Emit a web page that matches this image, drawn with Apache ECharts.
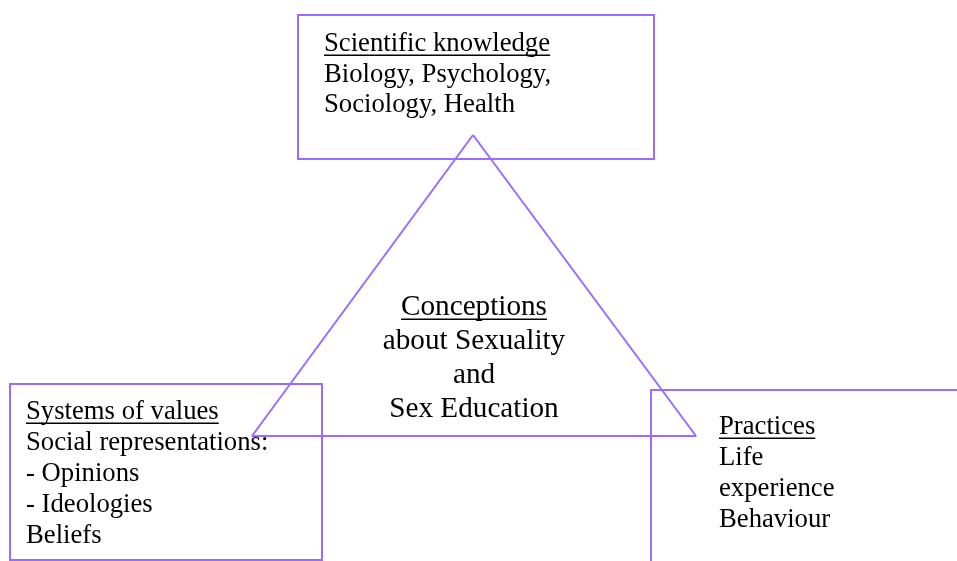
<!DOCTYPE html>
<html><head><meta charset="utf-8">
<script src="https://cdn.jsdelivr.net/npm/echarts@6/dist/echarts.min.js"></script>
<style>html,body{margin:0;padding:0;background:#fff}#c{width:957px;height:561px}</style>
</head><body><div id="c"></div>
<script>
// Diagram geometry (values in a 957 x 561 coordinate space)
const boxTop = [298, 15, 654, 159];
const boxLeft = [10, 384, 322, 560];
const boxRight = [651, 390, 990, 600];
const triangle = [[473, 135], [696, 436], [252, 436], [473, 135]];

const topLines = ['Scientific knowledge', 'Biology, Psychology,', 'Sociology, Health'];
const leftLines = ['Systems of values', 'Social representations:', '- Opinions', '- Ideologies', 'Beliefs'];
const rightLines = ['Practices', 'Life', 'experience', 'Behaviour'];
const centerLines = ['Conceptions', 'about Sexuality', 'and', 'Sex Education'];

const topAnchor = [324, 44];
const leftAnchor = [26, 412];
const rightAnchor = [719, 427];
const centerAnchor = [474, 307];

const PURPLE = '#9b6bff';
const BOX_FONT = '26.7px "Liberation Serif"';
const CENTER_FONT = '29.2px "Liberation Serif"';

const mctx = document.createElement('canvas').getContext('2d');
function textW(t, font) { mctx.font = font; return mctx.measureText(t).width; }

const textBlocks = [
  {anchor: topAnchor, lines: topLines, font: BOX_FONT, lh: 30.7, align: 'left'},
  {anchor: leftAnchor, lines: leftLines, font: BOX_FONT, lh: 30.9, align: 'left'},
  {anchor: rightAnchor, lines: rightLines, font: BOX_FONT, lh: 31, align: 'left'},
  {anchor: centerAnchor, lines: centerLines, font: CENTER_FONT, lh: 34, align: 'center'}
];

const chart = echarts.init(document.getElementById('c'), null, {renderer: 'canvas'});
chart.setOption({
  animation: false,
  backgroundColor: '#fff',
  grid: {left: 0, right: 0, top: 0, bottom: 0},
  xAxis: {type: 'value', min: 0, max: 957, show: false},
  yAxis: {type: 'value', min: 0, max: 561, inverse: true, show: false},
  series: [
    {
      type: 'custom',
      clip: false,
      data: [boxTop, boxLeft, boxRight],
      renderItem: function (params, api) {
        const p1 = api.coord([api.value(0), api.value(1)]);
        const p2 = api.coord([api.value(2), api.value(3)]);
        return {type: 'rect', shape: {x: p1[0], y: p1[1], width: p2[0] - p1[0], height: p2[1] - p1[1]},
          style: {fill: 'none', stroke: PURPLE, lineWidth: 2}};
      }
    },
    {
      type: 'line',
      data: triangle,
      symbol: 'none',
      lineStyle: {color: PURPLE, width: 2},
      silent: true
    },
    {
      type: 'custom',
      clip: false,
      data: textBlocks.map((b, i) => [b.anchor[0], b.anchor[1], i]),
      renderItem: function (params, api) {
        const b = textBlocks[api.value(2)];
        const p = api.coord([api.value(0), api.value(1)]);
        const children = [];
        b.lines.forEach((t, k) => {
          const y = p[1] + k * b.lh;
          children.push({type: 'text', style: {text: t, x: p[0], y: y, font: b.font, fill: '#000',
            align: b.align, verticalAlign: 'middle'}});
          if (k === 0) {
            const w = textW(t, b.font);
            const x0 = b.align === 'center' ? p[0] - w / 2 : p[0];
            const fs = parseFloat(b.font);
            children.push({type: 'line', shape: {x1: x0, y1: y + fs * 0.42, x2: x0 + w, y2: y + fs * 0.42},
              style: {stroke: '#000', lineWidth: 1.5}});
          }
        });
        return {type: 'group', children: children};
      }
    }
  ]
});
</script></body></html>
